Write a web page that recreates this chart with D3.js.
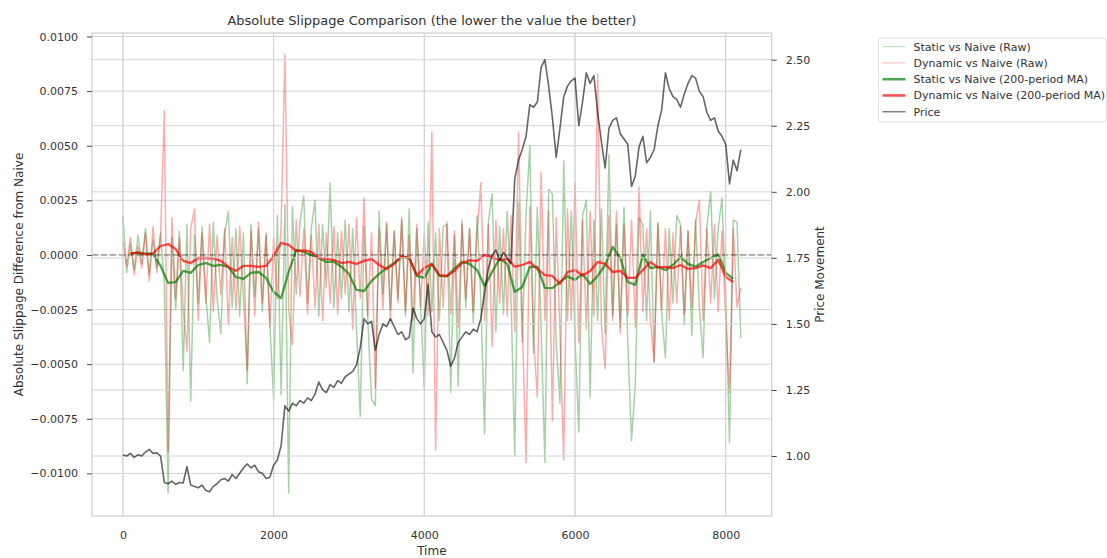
<!DOCTYPE html>
<html>
<head>
<meta charset="utf-8">
<script src="https://cdn.jsdelivr.net/npm/d3@7"></script>
<style>
body { margin: 0; background: #fff; }
text { font-family: "DejaVu Sans", sans-serif; fill: #333; }
</style>
</head>
<body>
<svg id="chart" width="1107" height="558"></svg>
<script>
// raw slippage difference samples, one every 50 time steps (t = 0 .. 8200)
var rawStep = 50;
var staticRaw = [
  0.0018,-0.0008,0.0005,-0.0007,0.0009,-0.0004,0.0012,-0.0009,0.0007,-0.0006,
  0.0010,-0.0014,-0.0109,0.0008,-0.0025,0.0011,-0.0053,0.0014,-0.0067,0.0009,
  -0.0022,0.0013,-0.0018,-0.0040,0.0015,-0.0020,-0.0036,0.0010,0.0020,-0.0024,
  0.0012,-0.0028,0.0010,-0.0059,0.0014,-0.0019,0.0012,-0.0026,0.0009,-0.0031,
  -0.0066,0.0018,-0.0064,0.0023,-0.0109,0.0022,-0.0018,0.0015,0.0027,-0.0022,
  0.0012,0.0025,-0.0028,0.0014,-0.0015,0.0033,-0.0024,0.0010,-0.0020,0.0016,
  -0.0026,0.0012,-0.0034,-0.0074,0.0013,-0.0030,-0.0066,-0.0069,0.0020,-0.0018,
  0.0014,-0.0025,0.0011,-0.0020,0.0016,-0.0028,0.0021,-0.0054,0.0012,-0.0022,
  -0.0061,0.0015,-0.0026,0.0010,-0.0030,0.0013,0.0014,-0.0063,0.0009,-0.0060,
  0.0016,-0.0024,0.0012,-0.0031,0.0018,-0.0020,-0.0082,0.0015,0.0028,-0.0035,
  0.0013,-0.0027,0.0020,-0.0018,-0.0092,0.0024,-0.0040,0.0019,0.0050,-0.0045,
  0.0022,-0.0033,-0.0095,0.0030,0.0028,-0.0040,-0.0068,0.0043,-0.0030,0.0020,
  -0.0038,-0.0081,0.0018,0.0025,-0.0065,0.0016,-0.0030,0.0021,-0.0036,0.0046,
  -0.0028,0.0014,-0.0033,0.0022,-0.0040,-0.0085,-0.0059,0.0017,0.0014,-0.0030,
  0.0020,-0.0049,0.0015,-0.0027,-0.0047,0.0012,-0.0022,0.0018,0.0014,-0.0032,
  0.0011,-0.0037,0.0016,-0.0024,-0.0047,0.0013,0.0029,-0.0020,0.0012,0.0026,
  -0.0018,-0.0086,0.0016,0.0015,-0.0038
];
var dynamicRaw = [
  0.0006,-0.0005,0.0008,-0.0009,0.0004,-0.0006,0.0010,-0.0012,0.0013,-0.0008,
  0.0009,0.0066,-0.0090,0.0017,-0.0020,0.0008,-0.0024,-0.0044,0.0012,0.0021,
  -0.0030,0.0010,-0.0022,0.0014,-0.0026,0.0009,-0.0018,0.0012,-0.0032,0.0008,
  -0.0025,0.0013,-0.0020,-0.0053,0.0011,-0.0028,0.0015,-0.0022,0.0010,-0.0033,
  0.0008,-0.0020,0.0014,0.0092,-0.0025,-0.0041,0.0016,-0.0019,0.0012,-0.0027,
  0.0009,-0.0024,0.0014,-0.0030,0.0010,-0.0022,0.0013,-0.0027,0.0011,-0.0018,
  0.0014,-0.0034,0.0017,-0.0020,0.0026,-0.0028,0.0010,-0.0061,0.0012,-0.0025,
  0.0015,-0.0030,0.0011,-0.0022,0.0017,-0.0026,0.0009,-0.0030,0.0014,-0.0024,
  0.0010,-0.0028,0.0056,-0.0089,0.0012,-0.0024,0.0015,-0.0027,0.0011,-0.0033,
  0.0014,-0.0020,0.0012,-0.0026,0.0010,0.0033,-0.0030,0.0014,-0.0042,0.0016,
  -0.0022,0.0012,-0.0028,0.0018,-0.0035,0.0056,-0.0030,-0.0095,0.0022,-0.0038,
  -0.0065,0.0038,-0.0030,0.0020,-0.0076,0.0017,-0.0035,-0.0094,0.0021,-0.0030,
  0.0033,-0.0040,0.0016,-0.0034,0.0020,-0.0028,0.0083,-0.0032,-0.0052,0.0018,
  -0.0030,0.0020,-0.0036,0.0014,-0.0028,0.0016,-0.0033,0.0031,-0.0026,0.0012,
  -0.0030,-0.0049,0.0014,-0.0025,0.0012,-0.0030,0.0010,-0.0022,0.0013,-0.0027,
  0.0011,-0.0024,0.0015,0.0025,-0.0030,0.0012,-0.0022,0.0014,-0.0026,0.0011,
  -0.0030,-0.0063,0.0012,-0.0024,-0.0015
];

// 200-period moving averages, one every 100 time steps (t = 100 .. 8100)
var maStart = 100, maStep = 100;
var staticMA = [
  0.00007,0.00010,0.00007,0.00004,-0.00050,-0.00128,-0.00124,-0.00073,-0.00082,-0.00046,
  -0.00037,-0.00050,-0.00046,-0.00055,-0.00101,-0.00110,-0.00082,-0.00078,-0.00105,-0.00169,
  -0.00197,-0.00078,0.00023,0.00014,0.00000,-0.00015,-0.00032,-0.00031,-0.00054,-0.00087,
  -0.00160,-0.00165,-0.00119,-0.00087,-0.00060,-0.00037,-0.00009,-0.00014,-0.00096,-0.00105,
  -0.00041,-0.00096,-0.00098,-0.00062,-0.00032,-0.00041,-0.00069,-0.00142,-0.00078,-0.00016,
  -0.00041,-0.00169,-0.00147,-0.00055,-0.00055,-0.00151,-0.00152,-0.00124,-0.00098,-0.00114,
  -0.00087,-0.00133,-0.00096,-0.00046,0.00037,-0.00014,-0.00124,-0.00137,0.00000,-0.00060,
  -0.00055,-0.00069,-0.00046,-0.00009,-0.00041,-0.00054,-0.00032,-0.00014,0.00002,-0.00082,
  -0.00110
];
var dynamicMA = [
  0.00007,0.00011,0.00003,0.00007,0.00041,0.00050,0.00027,-0.00027,-0.00037,-0.00014,
  -0.00014,-0.00016,-0.00027,-0.00055,-0.00073,-0.00050,-0.00050,-0.00055,-0.00050,-0.00005,
  0.00055,0.00046,0.00018,0.00021,0.00014,-0.00014,-0.00018,-0.00023,-0.00037,-0.00032,
  -0.00041,-0.00027,-0.00018,-0.00046,-0.00064,-0.00041,-0.00005,-0.00014,-0.00092,-0.00060,
  -0.00041,-0.00092,-0.00096,-0.00073,-0.00037,-0.00025,-0.00027,0.00000,-0.00011,-0.00023,
  -0.00018,-0.00054,-0.00046,-0.00032,-0.00064,-0.00092,-0.00096,-0.00133,-0.00078,-0.00069,
  -0.00094,-0.00073,-0.00032,-0.00041,-0.00078,-0.00073,-0.00105,-0.00105,-0.00069,-0.00032,
  -0.00057,-0.00055,-0.00060,-0.00046,-0.00064,-0.00060,-0.00048,-0.00060,-0.00023,-0.00101,
  -0.00124
];

// price, one every 50 time steps (t = 0 .. 8200)
var priceStep = 50;
var price = [
  1.004,1.000,1.010,0.995,1.005,1.000,1.015,1.025,1.010,1.012,
  1.000,0.900,0.895,0.905,0.893,0.900,0.898,0.960,0.890,0.885,
  0.880,0.890,0.870,0.865,0.885,0.895,0.910,0.915,0.905,0.930,
  0.915,0.935,0.955,0.970,0.955,0.965,0.940,0.935,0.915,0.920,
  0.965,0.985,1.040,1.190,1.170,1.200,1.190,1.210,1.200,1.220,
  1.210,1.235,1.280,1.250,1.240,1.270,1.260,1.285,1.275,1.300,
  1.310,1.320,1.345,1.410,1.520,1.500,1.510,1.400,1.460,1.500,
  1.490,1.520,1.490,1.460,1.470,1.440,1.450,1.560,1.520,1.500,
  1.520,1.650,1.470,1.450,1.460,1.430,1.400,1.340,1.370,1.430,
  1.450,1.470,1.460,1.480,1.470,1.520,1.620,1.710,1.760,1.780,
  1.740,1.770,1.750,1.730,2.050,2.120,2.160,2.210,2.330,2.320,
  2.340,2.470,2.500,2.400,2.280,2.130,2.240,2.360,2.400,2.420,
  2.430,2.250,2.340,2.450,2.410,2.440,2.300,2.190,2.090,2.240,
  2.270,2.280,2.220,2.200,2.180,2.020,2.060,2.170,2.210,2.110,
  2.130,2.160,2.250,2.310,2.450,2.390,2.360,2.350,2.320,2.370,
  2.410,2.440,2.430,2.380,2.360,2.300,2.270,2.280,2.230,2.210,
  2.180,2.030,2.120,2.080,2.160
];

var xTicks = [0, 2000, 4000, 6000, 8000];
var leftTicks = [-0.01, -0.0075, -0.005, -0.0025, 0, 0.0025, 0.005, 0.0075, 0.01];
var rightTicks = [1.0, 1.25, 1.5, 1.75, 2.0, 2.25, 2.5];

var legendItems = [
  {label: "Static vs Naive (Raw)", color: "green", opacity: 0.3, width: 1},
  {label: "Dynamic vs Naive (Raw)", color: "red", opacity: 0.3, width: 1},
  {label: "Static vs Naive (200-period MA)", color: "green", opacity: 0.7, width: 2.5},
  {label: "Dynamic vs Naive (200-period MA)", color: "red", opacity: 0.7, width: 2.5},
  {label: "Price", color: "black", opacity: 0.5, width: 1.5}
];

var margin = {top: 33, right: 335.3, bottom: 42, left: 92},
    width = 1107 - margin.left - margin.right,
    height = 558 - margin.top - margin.bottom;

var svg = d3.select("#chart");
var g = svg.append("g").attr("transform", "translate(" + margin.left + "," + margin.top + ")");

var x = d3.scaleLinear().domain([-410, 8610]).range([0, width]);
var yL = d3.scaleLinear().domain([-0.01195, 0.01016]).range([height, 0]);
var yR = d3.scaleLinear().domain([0.773, 2.601]).range([height, 0]);

function hgrid(scale, ticks) {
  g.append("g").selectAll("line").data(ticks).enter().append("line")
    .attr("x1", 0).attr("x2", width)
    .attr("y1", function(d) { return scale(d); })
    .attr("y2", function(d) { return scale(d); })
    .attr("stroke", "#d4d4d4").attr("stroke-width", 1);
}
function vgrid() {
  g.append("g").selectAll("line").data(xTicks).enter().append("line")
    .attr("y1", 0).attr("y2", height)
    .attr("x1", function(d) { return x(d); })
    .attr("x2", function(d) { return x(d); })
    .attr("stroke", "#d4d4d4").attr("stroke-width", 1);
}

// first axes: grid then slippage lines
vgrid();
hgrid(yL, leftTicks);

function drawSeries(values, t0, step, scale, color, opacity, w) {
  var line = d3.line()
    .x(function(d, i) { return x(t0 + i * step); })
    .y(function(d) { return scale(d); });
  g.append("path").datum(values)
    .attr("d", line)
    .attr("fill", "none")
    .attr("stroke", color)
    .attr("stroke-opacity", opacity)
    .attr("stroke-width", w)
    .attr("stroke-linejoin", "round");
}

drawSeries(staticRaw, 0, rawStep, yL, "green", 0.35, 1.5);
drawSeries(dynamicRaw, 0, rawStep, yL, "red", 0.33, 1.5);
drawSeries(staticMA, maStart, maStep, yL, "green", 0.7, 2.3);
drawSeries(dynamicMA, maStart, maStep, yL, "red", 0.7, 2.3);

g.append("line")
  .attr("x1", 0).attr("x2", width)
  .attr("y1", yL(0)).attr("y2", yL(0))
  .attr("stroke", "black").attr("stroke-opacity", 0.5)
  .attr("stroke-dasharray", "6,3");

// twin axes: its grid lies over the slippage lines
vgrid();
hgrid(yR, rightTicks);
drawSeries(price, 0, priceStep, yR, "black", 0.6, 1.6);

// frame
g.append("rect").attr("width", width).attr("height", height)
  .attr("fill", "none").attr("stroke", "#cfcfcf").attr("stroke-width", 1.2);

var fmtL = d3.format(".4f"), fmtR = d3.format(".2f");

var axL = g.append("g").call(d3.axisLeft(yL).tickValues(leftTicks).tickFormat(fmtL).tickSize(5).tickPadding(9));
var axR = g.append("g").attr("transform", "translate(" + width + ",0)")
  .call(d3.axisRight(yR).tickValues(rightTicks).tickFormat(fmtR).tickSize(5).tickPadding(9));
var axB = g.append("g").attr("transform", "translate(0," + height + ")")
  .call(d3.axisBottom(x).tickValues(xTicks).tickFormat(d3.format("d")).tickSize(0).tickPadding(15));

[axL, axR, axB].forEach(function(a) {
  a.select(".domain").remove();
  a.selectAll(".tick line").attr("stroke", "#444");
  a.selectAll("text").attr("font-size", 11).attr("font-family", "DejaVu Sans").attr("fill", "#333");
});

// titles
svg.append("text").attr("x", margin.left + width / 2).attr("y", 25)
  .attr("text-anchor", "middle").attr("font-size", 13)
  .text("Absolute Slippage Comparison (the lower the value the better)");
svg.append("text").attr("x", margin.left + width / 2).attr("y", 555)
  .attr("text-anchor", "middle").attr("font-size", 12).text("Time");
svg.append("text")
  .attr("transform", "translate(23," + (margin.top + height / 2) + ") rotate(-90)")
  .attr("text-anchor", "middle").attr("font-size", 12)
  .text("Absolute Slippage Difference from Naive");
svg.append("text")
  .attr("transform", "translate(824," + (margin.top + height / 2) + ") rotate(-90)")
  .attr("text-anchor", "middle").attr("font-size", 12)
  .text("Price Movement");

// legend
var lg = svg.append("g").attr("transform", "translate(878.5,38)");
lg.append("rect").attr("width", 228).attr("height", 84).attr("rx", 3)
  .attr("fill", "#fff").attr("fill-opacity", 0.8)
  .attr("stroke", "#e0e0e0").attr("stroke-width", 1);
var rows = lg.selectAll("g.item").data(legendItems).enter().append("g")
  .attr("class", "item")
  .attr("transform", function(d, i) { return "translate(0," + (8.7 + i * 16.25) + ")"; });
rows.append("line").attr("x1", 4).attr("x2", 27)
  .attr("stroke", function(d) { return d.color; })
  .attr("stroke-opacity", function(d) { return d.opacity; })
  .attr("stroke-width", function(d) { return d.width; });
rows.append("text").attr("x", 35).attr("dy", "0.35em").attr("font-size", 11)
  .text(function(d) { return d.label; });
</script>
</body>
</html>
